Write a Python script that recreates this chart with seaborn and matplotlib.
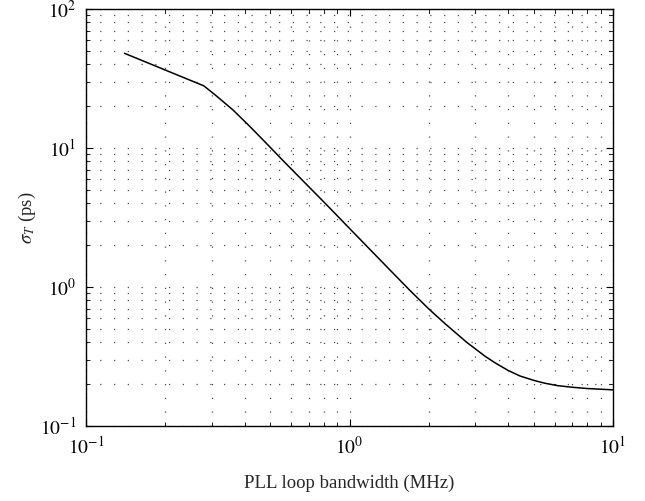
import numpy as np
import pandas as pd
import matplotlib
matplotlib.use("Agg")
import matplotlib.pyplot as plt
import seaborn as sns

# Data (log-log)
bandwidth_mhz = [0.14, 0.28, 0.31, 0.361, 0.42, 0.486, 0.56, 0.649, 0.74, 0.828,
                 1.0, 1.2, 1.45, 1.7, 2.0, 2.304, 2.785, 3.266, 3.565,
                 4.0, 4.436, 5.0, 5.52, 6.18, 7.0, 8.0, 10.0]
sigma_ps = [48.0, 28.0, 24.0, 18.8, 14.2, 10.7, 8.1, 6.1, 4.74, 3.82,
            2.64, 1.85, 1.28, 0.94, 0.695, 0.545, 0.40, 0.318, 0.285,
            0.251, 0.229, 0.213, 0.203, 0.195, 0.19, 0.186, 0.182]

x_ticks = [0.1, 1, 10]
x_tick_labels = [r"$10^{-1}$", r"$10^{0}$", r"$10^{1}$"]
y_ticks = [0.1, 1, 10, 100]
y_tick_labels = [r"$10^{-1}$", r"$10^{0}$", r"$10^{1}$", r"$10^{2}$"]

df = pd.DataFrame({"bw": bandwidth_mhz, "sigma": sigma_ps})

sns.set_style("ticks")
plt.rcParams["font.family"] = ["Liberation Serif", "DejaVu Serif"]
plt.rcParams["mathtext.fontset"] = "stix"

fig = plt.figure(figsize=(6.45, 5.01), dpi=100)
ax = fig.add_axes([86 / 645, 75 / 501, (613 - 86) / 645, (426 - 9) / 501])

sns.lineplot(data=df, x="bw", y="sigma", ax=ax, color="black", linewidth=1.1)

ax.set_xscale("log")
ax.set_yscale("log")
ax.set_xlim(0.1, 10)
ax.set_ylim(0.1, 100)
ax.set_xticks(x_ticks)
ax.set_xticklabels(x_tick_labels)
ax.set_yticks(y_ticks)
ax.set_yticklabels(y_tick_labels)

ax.grid(True, which="both", linestyle=(0, (1, 10)), linewidth=0.9, color="0.3")
ax.tick_params(which="both", direction="in", top=True, right=True, colors="black",
               labelsize=14, pad=7)
ax.tick_params(which="major", length=5, width=0.8)
ax.tick_params(which="minor", length=3, width=0.6)
for s in ax.spines.values():
    s.set_linewidth(1.0)
    s.set_color("black")

ax.set_xlabel("PLL loop bandwidth (MHz)", fontsize=13.5, labelpad=12)
ax.set_ylabel(r"$\sigma_T$ (ps)", fontsize=13.5, labelpad=1)

fig.savefig("out.png", dpi=100)
